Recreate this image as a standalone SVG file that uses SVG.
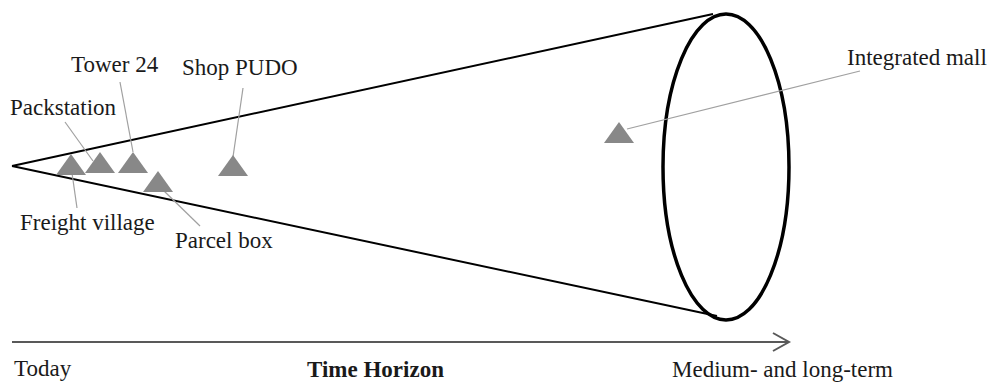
<svg xmlns="http://www.w3.org/2000/svg" width="994" height="383" viewBox="0 0 994 383">
<style>
text{font-family:"Liberation Serif","Times New Roman",serif;font-size:23px;fill:#1a1a1a}
.b{font-weight:bold}
.cone{stroke:#000;stroke-width:2;fill:none}
.leader{stroke:#a0a0a0;stroke-width:1.2;fill:none}
.tri{fill:#888888}
</style>
<defs>
<path id="tri" d="M0,0 L15,21 L-15,21 Z"/>
<marker id="open" viewBox="0 0 20 20" refX="17" refY="10" markerWidth="20" markerHeight="20" markerUnits="userSpaceOnUse" orient="auto">
<polyline points="1,1 17,10 1,19" fill="none" stroke="#595959" stroke-width="2"/>
</marker>
</defs>
<g id="cone">
<line class="cone" x1="12" y1="166" x2="713" y2="14"/>
<line class="cone" x1="12" y1="166" x2="717" y2="316"/>
<ellipse cx="726" cy="167" rx="63" ry="153" fill="none" stroke="#000" stroke-width="3.5"/>
</g>
<g id="connectors">
<line class="leader" x1="72" y1="173" x2="77" y2="208"/>
<line class="leader" x1="65" y1="122" x2="93" y2="161"/>
<line class="leader" x1="120" y1="82" x2="133" y2="152"/>
<line class="leader" x1="163" y1="190" x2="200" y2="226"/>
<line class="leader" x1="243" y1="88" x2="233" y2="157"/>
<line class="leader" x1="860" y1="71" x2="627" y2="129"/>
</g>
<g id="freight-village">
<use href="#tri" class="tri" x="71" y="154"/>
<text x="20" y="230">Freight village</text>
</g>
<g id="packstation">
<use href="#tri" class="tri" x="100" y="152"/>
<text x="10" y="115">Packstation</text>
</g>
<g id="tower-24">
<use href="#tri" class="tri" x="133" y="152"/>
<text x="71" y="72">Tower 24</text>
</g>
<g id="parcel-box">
<use href="#tri" class="tri" x="158" y="171"/>
<text x="175" y="248">Parcel box</text>
</g>
<g id="shop-pudo">
<use href="#tri" class="tri" x="233" y="155"/>
<text x="182" y="75">Shop PUDO</text>
</g>
<g id="integrated-mall">
<use href="#tri" class="tri" x="619" y="122"/>
<text x="847" y="65">Integrated mall</text>
</g>
<g id="time-axis">
<line x1="12" y1="342" x2="789" y2="342" stroke="#595959" stroke-width="2" marker-end="url(#open)"/>
<text x="14" y="376">Today</text>
<text x="307" y="377" class="b">Time Horizon</text>
<text x="672" y="377">Medium- and long-term</text>
</g>
</svg>
